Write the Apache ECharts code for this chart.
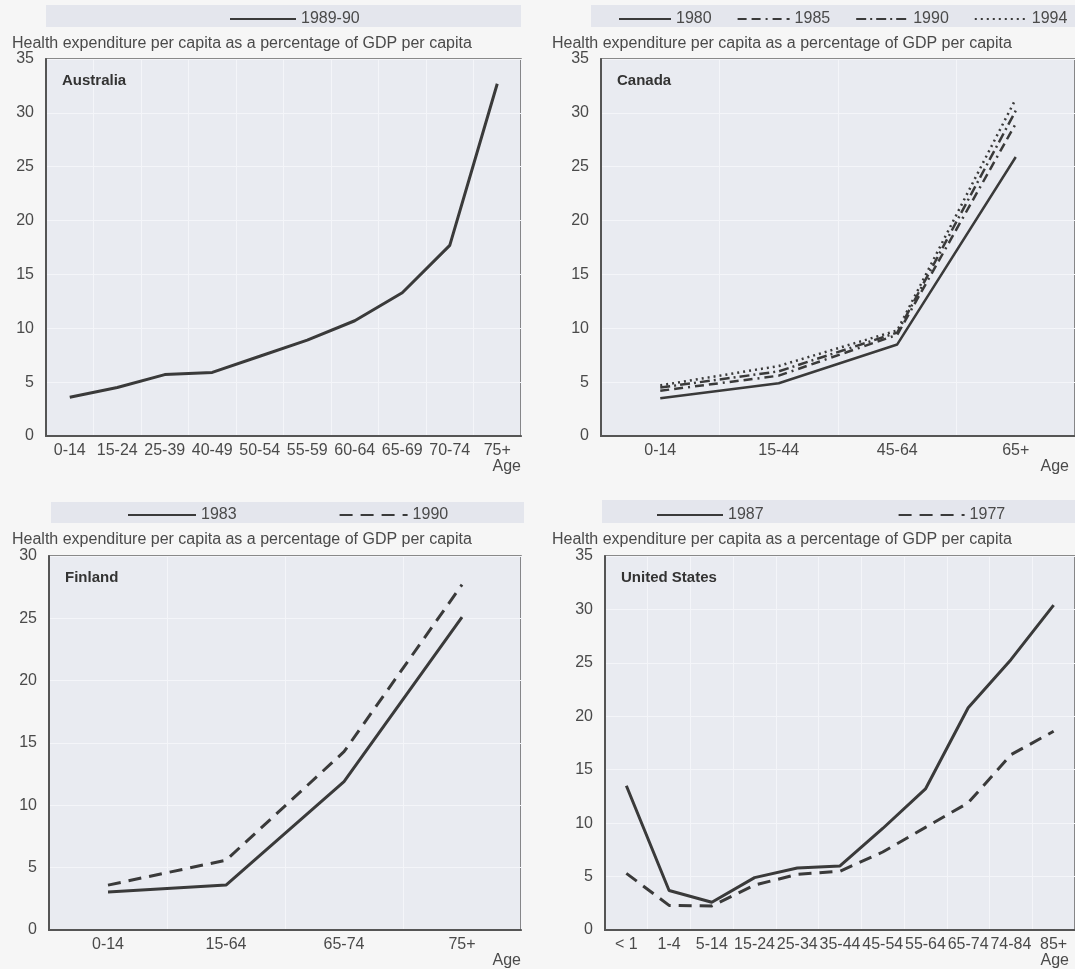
<!DOCTYPE html>
<html>
<head>
<meta charset="utf-8">
<script src="https://cdn.jsdelivr.net/npm/echarts@6/dist/echarts.min.js"></script>
<style>
  html, body { margin:0; padding:0; background:#f6f6f6; width:1075px; height:969px; overflow:hidden; }
  .p { position:absolute; }
</style>
</head>
<body>
<div id="au" class="p" style="left:0;top:0;width:540px;height:490px;"></div>
<div id="ca" class="p" style="left:540px;top:0;width:535px;height:490px;"></div>
<div id="fi" class="p" style="left:0;top:496px;width:540px;height:473px;"></div>
<div id="us" class="p" style="left:540px;top:496px;width:535px;height:473px;"></div>
<script>
// ---------- data ----------
const caption = 'Health expenditure per capita as a percentage of GDP per capita';
const yTicks35 = [0, 35, 5];
const yTicks30 = [0, 30, 5];

const auCats = ['0-14','15-24','25-39','40-49','50-54','55-59','60-64','65-69','70-74','75+'];
const au1989 = [3.6, 4.5, 5.7, 5.9, 7.4, 8.9, 10.7, 13.3, 17.7, 32.7];

const caCats = ['0-14','15-44','45-64','65+'];
const ca1980 = [3.5, 4.9, 8.5, 25.9];
const ca1985 = [4.2, 5.6, 9.4, 29.0];
const ca1990 = [4.5, 6.0, 9.6, 30.2];
const ca1994 = [4.7, 6.5, 9.8, 31.3];

const fiCats = ['0-14','15-64','65-74','75+'];
const fi1983 = [3.05, 3.6, 11.9, 25.1];
const fi1990 = [3.6, 5.6, 14.3, 27.7];

const usCats = ['< 1','1-4','5-14','15-24','25-34','35-44','45-54','55-64','65-74','74-84','85+'];
const us1987 = [13.5, 3.7, 2.6, 4.9, 5.8, 6.0, 9.5, 13.2, 20.8, 25.3, 30.4];
const us1977 = [5.3, 2.3, 2.25, 4.2, 5.2, 5.5, 7.3, 9.6, 11.9, 16.4, 18.6];

// ---------- style ----------
const FONT = '"Liberation Sans", Arial, Helvetica, sans-serif';
const INK = '#3a3a3a';
const TXT = '#4a4a4a';

function panel(el, cfg) {
  const chart = echarts.init(document.getElementById(el), null, {renderer:'canvas'});
  const series = cfg.series.map(s => ({
    name: s.name, type: 'line', data: s.data, symbol: 'none', smooth: false,
    lineStyle: { color: INK, width: s.width || 3, type: s.dash || 'solid', cap: 'butt' },
    itemStyle: { color: INK },
    z: 3
  }));
  chart.setOption({
    backgroundColor: 'transparent',
    animation: false,
    textStyle: { fontFamily: FONT },
    graphic: [{
      type: 'rect', z: -1,
      shape: { x: cfg.band[0], y: cfg.band[1], width: cfg.band[2], height: cfg.band[3] },
      style: { fill: '#e4e6ed' }
    }],
    title: [
      { text: caption, left: 12, top: 36, padding: 0, textStyle: { fontFamily: FONT, fontSize: 16, fontWeight: 'normal', color: TXT } },
      { text: cfg.country, left: cfg.grid.left + 16, top: cfg.grid.top + 14, padding: 0, textStyle: { fontFamily: FONT, fontSize: 15, fontWeight: 'bold', color: '#333' } }
    ],
    legend: {
      left: cfg.legend.left, top: 6,
      itemWidth: cfg.legend.itemWidth, itemHeight: 12, itemGap: cfg.legend.gap,
      itemStyle: { opacity: 0 },
      textStyle: { fontFamily: FONT, fontSize: 16, color: TXT },
      data: cfg.series.map(s => s.name)
    },
    grid: {
      left: cfg.grid.left, top: cfg.grid.top, width: cfg.grid.width, height: cfg.grid.height,
      show: true, backgroundColor: '#e9ebf1', borderColor: '#666', borderWidth: 1.5
    },
    xAxis: {
      type: 'category', data: cfg.cats, boundaryGap: true,
      axisLine: { lineStyle: { color: '#555', width: 2 } },
      axisTick: { show: false },
      axisLabel: { interval: 0, color: TXT, fontSize: 16, margin: 7, fontFamily: FONT },
      splitLine: { show: true, lineStyle: { color: '#f4f5f9', width: 1 } },
      name: 'Age', nameLocation: 'end', nameGap: cfg.ageGap,
      nameTextStyle: { align: 'right', verticalAlign: 'top', padding: [23, 0, 0, 0], color: TXT, fontSize: 16, fontFamily: FONT }
    },
    yAxis: {
      type: 'value', min: cfg.y[0], max: cfg.y[1], interval: cfg.y[2],
      axisLine: { show: true, lineStyle: { color: '#555', width: 2 } },
      axisTick: { show: false },
      axisLabel: { color: TXT, fontSize: 16, margin: 12, fontFamily: FONT },
      splitLine: { show: true, lineStyle: { color: '#f4f5f9', width: 1 } }
    },
    series: series
  });
}

panel('au', {
  country: 'Australia', cats: auCats, y: yTicks35,
  band: [46, 5, 475, 22],
  grid: { left: 46, top: 59, width: 475, height: 377 },
  legend: { left: 224, itemWidth: 66, gap: 20 },
  ageGap: 0,
  series: [{ name: '1989-90', data: au1989 }]
});

panel('ca', {
  country: 'Canada', cats: caCats, y: yTicks35,
  band: [51, 5, 484, 22],
  grid: { left: 61, top: 59, width: 480, height: 377 },
  legend: { left: 73, itemWidth: 52, gap: 25 },
  ageGap: -6,
  series: [
    { name: '1980', data: ca1980, width: 2.5 },
    { name: '1985', data: ca1985, width: 2.5, dash: [9, 5, 9, 5, 2, 5] },
    { name: '1990', data: ca1990, width: 2.5, dash: [10, 4, 2, 4] },
    { name: '1994', data: ca1994, width: 2.5, dash: [2, 4] }
  ]
});

panel('fi', {
  country: 'Finland', cats: fiCats, y: yTicks30,
  band: [51, 6, 473, 21],
  grid: { left: 49, top: 60, width: 472, height: 375 },
  legend: { left: 122, itemWidth: 68, gap: 102 },
  ageGap: 0,
  series: [
    { name: '1983', data: fi1983 },
    { name: '1990', data: fi1990, dash: [13, 8] }
  ]
});

panel('us', {
  country: 'United States', cats: usCats, y: yTicks35,
  band: [62, 4, 473, 23],
  grid: { left: 65, top: 60, width: 475, height: 376 },
  legend: { left: 111, itemWidth: 66, gap: 134 },
  ageGap: -6,
  series: [
    { name: '1987', data: us1987 },
    { name: '1977', data: us1977, dash: [13, 8] }
  ]
});
</script>
</body>
</html>
